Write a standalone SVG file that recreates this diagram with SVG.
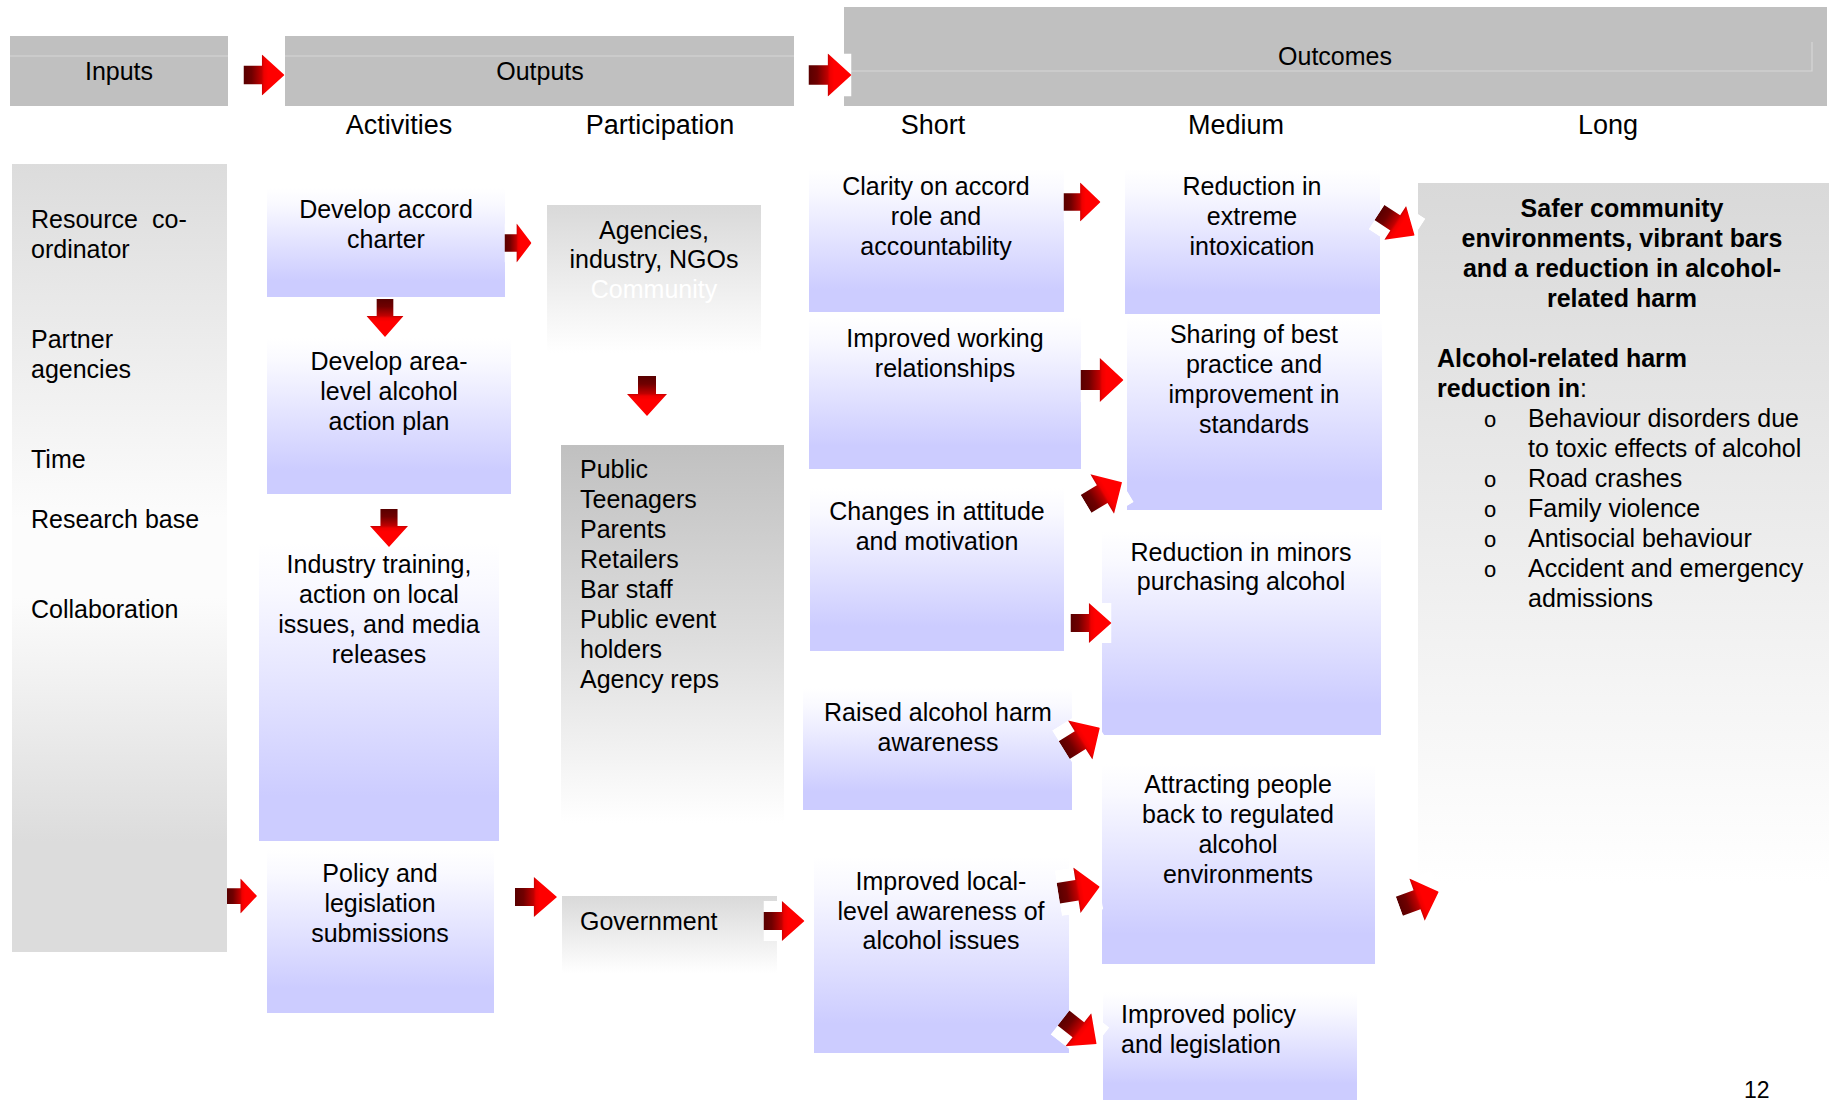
<svg xmlns="http://www.w3.org/2000/svg" width="1829" height="1100" viewBox="0 0 1829 1100">
<style>
text{font-family:"Liberation Sans",Arial,sans-serif;font-size:25px;fill:#000}
.c{text-anchor:middle}
.h{font-size:27px}
.b{font-weight:bold}
.w{fill:#fff}
.hdr{fill:#c0c0c0}
.ln{stroke:#d6d6d6;stroke-width:1.2;fill:none}
.lav{fill:url(#lav)}
</style>
<defs>
<linearGradient id="lav" x1="0" y1="0" x2="0" y2="1">
<stop offset="0" stop-color="#ffffff"/>
<stop offset="0.15" stop-color="#f9f9ff"/>
<stop offset="0.85" stop-color="#ccccff"/>
<stop offset="1" stop-color="#ccccff"/>
</linearGradient>
<linearGradient id="inp" x1="0" y1="0" x2="0" y2="1">
<stop offset="0" stop-color="#dcdcdc"/>
<stop offset="0.45" stop-color="#fcfcfc"/>
<stop offset="0.55" stop-color="#fcfcfc"/>
<stop offset="0.86" stop-color="#dcdcdc"/>
<stop offset="1" stop-color="#dcdcdc"/>
</linearGradient>
<linearGradient id="gw" x1="0" y1="0" x2="0" y2="1">
<stop offset="0" stop-color="#d9d9d9"/>
<stop offset="1" stop-color="#ffffff"/>
</linearGradient>
<linearGradient id="gp" x1="0" y1="0" x2="0" y2="1">
<stop offset="0" stop-color="#c0c0c0"/>
<stop offset="0.5" stop-color="#dedede"/>
<stop offset="0.95" stop-color="#ffffff"/>
<stop offset="1" stop-color="#ffffff"/>
</linearGradient>
<linearGradient id="ag" x1="0" y1="0" x2="1" y2="0">
<stop offset="0" stop-color="#580000"/>
<stop offset="0.2" stop-color="#700000"/>
<stop offset="0.44" stop-color="#c00000"/>
<stop offset="0.5" stop-color="#ee0000"/>
<stop offset="0.6" stop-color="#ff0000"/>
<stop offset="1" stop-color="#ff0000"/>
</linearGradient>
<symbol id="arr" viewBox="0 0 40 40" preserveAspectRatio="none">
<rect width="40" height="40" fill="#ffffff"/>
<path d="M0,11 H18 V0 L40,20 L18,40 V29 H0 Z" fill="url(#ag)"/>
</symbol>
</defs>
<rect width="1829" height="1100" fill="#ffffff"/>

<g id="hdr-inputs">
<rect class="hdr" x="10" y="36" width="218" height="70"/>
<line class="ln" x1="10" y1="56" x2="228" y2="56"/>
<text class="c" x="119" y="80">Inputs</text>
</g>
<g id="hdr-outputs">
<rect class="hdr" x="285" y="36" width="509" height="70"/>
<line class="ln" x1="285" y1="56" x2="794" y2="56"/>
<text class="c" x="540" y="80">Outputs</text>
</g>
<g id="hdr-outcomes">
<rect class="hdr" x="844" y="7" width="983" height="99"/>
<path class="ln" d="M844,71 H1812 V42"/>
<text class="c" x="1335" y="65">Outcomes</text>
</g>
<g id="col-heads">
<text class="c h" x="399" y="134">Activities</text>
<text class="c h" x="660" y="134">Participation</text>
<text class="c h" x="933" y="134">Short</text>
<text class="c h" x="1236" y="134">Medium</text>
<text class="c h" x="1608" y="134">Long</text>
</g>

<g id="inputs">
<rect x="12" y="164" width="215" height="788" fill="url(#inp)"/>
<text x="31" y="228">Resource</text><text x="152" y="228">co-</text>
<text x="31" y="258">ordinator</text>
<text x="31" y="348">Partner</text>
<text x="31" y="378">agencies</text>
<text x="31" y="468">Time</text>
<text x="31" y="528">Research base</text>
<text x="31" y="618">Collaboration</text>
</g>

<g id="act-accord">
<rect class="lav" x="267" y="188" width="238" height="109"/>
<text class="c" x="386" y="218">Develop accord</text>
<text class="c" x="386" y="248">charter</text>
</g>
<g id="act-plan">
<rect class="lav" x="267" y="338" width="244" height="156"/>
<text class="c" x="389" y="370">Develop area-</text>
<text class="c" x="389" y="400">level alcohol</text>
<text class="c" x="389" y="430">action plan</text>
</g>
<g id="act-training">
<rect class="lav" x="259" y="543" width="240" height="298"/>
<text class="c" x="379" y="573">Industry training,</text>
<text class="c" x="379" y="603">action on local</text>
<text class="c" x="379" y="633">issues, and media</text>
<text class="c" x="379" y="663">releases</text>
</g>
<g id="act-policy">
<rect class="lav" x="267" y="849" width="227" height="164"/>
<text class="c" x="380" y="882">Policy and</text>
<text class="c" x="380" y="912">legislation</text>
<text class="c" x="380" y="942">submissions</text>
</g>

<g id="part-agencies">
<rect x="547" y="205" width="214" height="148" fill="url(#gw)"/>
<text class="c" x="654" y="239">Agencies,</text>
<text class="c" x="654" y="268">industry, NGOs</text>
<text class="c w" x="654" y="298">Community</text>
</g>
<g id="part-public">
<rect x="561" y="445" width="223" height="398" fill="url(#gp)"/>
<text x="580" y="478">Public</text>
<text x="580" y="508">Teenagers</text>
<text x="580" y="538">Parents</text>
<text x="580" y="568">Retailers</text>
<text x="580" y="598">Bar staff</text>
<text x="580" y="628">Public event</text>
<text x="580" y="658">holders</text>
<text x="580" y="688">Agency reps</text>
</g>
<g id="part-government">
<rect x="562" y="896" width="215" height="77" fill="url(#gw)"/>
<text x="580" y="930">Government</text>
</g>

<g id="short-clarity">
<rect class="lav" x="809" y="169" width="255" height="143"/>
<text class="c" x="936" y="195">Clarity on accord</text>
<text class="c" x="936" y="225">role and</text>
<text class="c" x="936" y="255">accountability</text>
</g>
<g id="short-working">
<rect class="lav" x="809" y="317" width="272" height="152"/>
<text class="c" x="945" y="347">Improved working</text>
<text class="c" x="945" y="377">relationships</text>
</g>
<g id="short-attitude">
<rect class="lav" x="810" y="488" width="254" height="163"/>
<text class="c" x="937" y="520">Changes in attitude</text>
<text class="c" x="937" y="550">and motivation</text>
</g>
<g id="short-awareness">
<rect class="lav" x="803" y="688" width="269" height="122"/>
<text class="c" x="938" y="721">Raised alcohol harm</text>
<text class="c" x="938" y="751">awareness</text>
</g>
<g id="short-local">
<rect class="lav" x="814" y="857" width="255" height="196"/>
<text class="c" x="941" y="890">Improved local-</text>
<text class="c" x="941" y="920">level awareness of</text>
<text class="c" x="941" y="949">alcohol issues</text>
</g>

<g id="med-intox">
<rect class="lav" x="1125" y="169" width="255" height="145"/>
<text class="c" x="1252" y="195">Reduction in</text>
<text class="c" x="1252" y="225">extreme</text>
<text class="c" x="1252" y="255">intoxication</text>
</g>
<g id="med-sharing">
<rect class="lav" x="1127" y="317" width="255" height="193"/>
<text class="c" x="1254" y="343">Sharing of best</text>
<text class="c" x="1254" y="373">practice and</text>
<text class="c" x="1254" y="403">improvement in</text>
<text class="c" x="1254" y="433">standards</text>
</g>
<g id="med-minors">
<rect class="lav" x="1102" y="531" width="279" height="204"/>
<text class="c" x="1241" y="561">Reduction in minors</text>
<text class="c" x="1241" y="590">purchasing alcohol</text>
</g>
<g id="med-attract">
<rect class="lav" x="1102" y="764" width="273" height="200"/>
<text class="c" x="1238" y="793">Attracting people</text>
<text class="c" x="1238" y="823">back to regulated</text>
<text class="c" x="1238" y="853">alcohol</text>
<text class="c" x="1238" y="883">environments</text>
</g>
<g id="med-policy">
<rect class="lav" x="1103" y="992" width="254" height="108"/>
<text x="1121" y="1023">Improved policy</text>
<text x="1121" y="1053">and legislation</text>
</g>

<g id="long">
<rect x="1418" y="183" width="411" height="700" fill="url(#gw)"/>
<text class="c b" x="1622" y="217">Safer community</text>
<text class="c b" x="1622" y="247">environments, vibrant bars</text>
<text class="c b" x="1622" y="277">and a reduction in alcohol-</text>
<text class="c b" x="1622" y="307">related harm</text>
<text class="b" x="1437" y="367">Alcohol-related harm</text>
<text x="1437" y="397"><tspan class="b">reduction in</tspan>:</text>
<text x="1484" y="427" style="font-size:22px">o</text><text x="1528" y="427">Behaviour disorders due</text>
<text x="1528" y="457">to toxic effects of alcohol</text>
<text x="1484" y="487" style="font-size:22px">o</text><text x="1528" y="487">Road crashes</text>
<text x="1484" y="517" style="font-size:22px">o</text><text x="1528" y="517">Family violence</text>
<text x="1484" y="547" style="font-size:22px">o</text><text x="1528" y="547">Antisocial behaviour</text>
<text x="1484" y="577" style="font-size:22px">o</text><text x="1528" y="577">Accident and emergency</text>
<text x="1528" y="607">admissions</text>
</g>

<g id="connectors">
<use href="#arr" width="41" height="41" transform="translate(264,75) translate(-20.5,-20.5)"/>
<use href="#arr" width="43" height="43" transform="translate(830,75) translate(-21.5,-21.5)"/>
<use href="#arr" width="27" height="39" transform="translate(518,243) translate(-13.5,-19.5)"/>
<use href="#arr" width="38" height="37" transform="translate(385,318) rotate(90) translate(-19,-18.5)"/>
<use href="#arr" width="38" height="38" transform="translate(389,528) rotate(90) translate(-19,-19)"/>
<use href="#arr" width="40" height="40" transform="translate(647,396) rotate(90) translate(-20,-20)"/>
<use href="#arr" width="37" height="39" transform="translate(1082,202) translate(-18.5,-19.5)"/>
<use href="#arr" width="43" height="44" transform="translate(1102,380) translate(-21.5,-22)"/>
<use href="#arr" width="42" height="46" transform="translate(1104,493) rotate(-31) translate(-21,-23)"/>
<use href="#arr" width="41" height="40" transform="translate(1091,623) translate(-20.5,-20)"/>
<use href="#arr" width="42" height="40" transform="translate(1397,224) rotate(33) translate(-21,-20)"/>
<use href="#arr" width="42" height="46" transform="translate(1082,739) rotate(-32) translate(-21,-23)"/>
<use href="#arr" width="42" height="46" transform="translate(1079,890) rotate(-9) translate(-21,-23)"/>
<use href="#arr" width="42" height="45" transform="translate(1419,899) rotate(-20) translate(-21,-22.5)"/>
<use href="#arr" width="42" height="42" transform="translate(1080,1031) rotate(38) translate(-21,-21)"/>
<use href="#arr" width="30" height="35" transform="translate(242,896) translate(-15,-17.5)"/>
<use href="#arr" width="42" height="40" transform="translate(536,897) translate(-21,-20)"/>
<use href="#arr" width="41" height="40" transform="translate(784,921) translate(-20.5,-20)"/>
</g>

<text x="1744" y="1098" style="font-size:23px">12</text>
</svg>
